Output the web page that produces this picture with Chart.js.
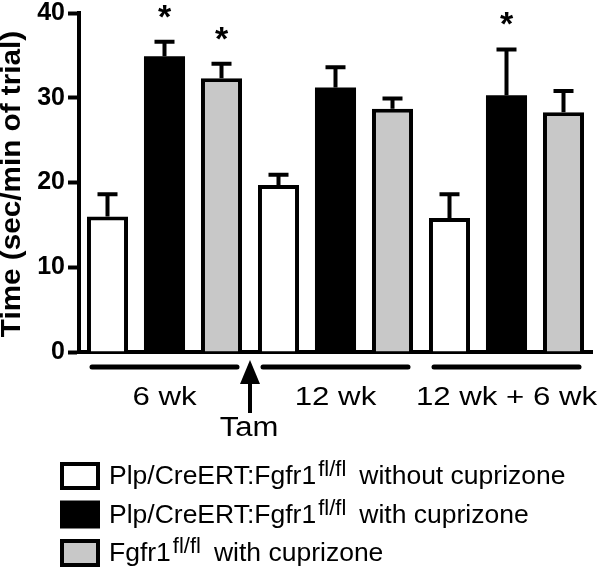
<!DOCTYPE html>
<html>
<head>
<meta charset="utf-8">
<script src="https://cdn.jsdelivr.net/npm/chart.js@4/dist/chart.umd.min.js"></script>
<style>
  html, body { margin: 0; padding: 0; background: #fff; }
  canvas { display: block; }
</style>
</head>
<body>
<canvas id="chart" width="601" height="570"></canvas>
<script>
const groups = ['6 wk', '12 wk', '12 wk + 6 wk']
const yTicks = [0, 10, 20, 30, 40]

const withoutCup = [16.0, 19.7, 15.8]
const withoutCupErr = [2.6, 1.2, 2.8]
const withCup = [34.9, 31.2, 30.3]
const withCupErr = [1.7, 2.4, 5.4]
const floxCup = [32.3, 28.7, 28.3]
const floxCupErr = [1.7, 1.2, 2.5]

// significance stars over bars
const withoutCupSig = [false, false, false]
const withCupSig = [true, false, true]
const floxCupSig = [true, false, false]

const legendRows = [
  { pre: 'Plp/CreERT:Fgfr1', sup: 'fl/fl', post: 'without cuprizone', fill: '#ffffff' },
  { pre: 'Plp/CreERT:Fgfr1', sup: 'fl/fl', post: 'with cuprizone', fill: '#000000' },
  { pre: 'Fgfr1', sup: 'fl/fl', post: 'with cuprizone', fill: '#c8c8c8' }
]

const FONT = '"Liberation Sans", Arial, sans-serif'

const errs = [withoutCupErr, withCupErr, floxCupErr]
const sigs = [withoutCupSig, withCupSig, floxCupSig]

const scaledText = (ctx, text, x, y, font, sx, align) => {
  ctx.save()
  ctx.font = font
  ctx.textAlign = align || 'center'
  ctx.textBaseline = 'alphabetic'
  ctx.translate(x, y)
  ctx.scale(sx, 1)
  ctx.fillText(text, 0, 0)
  ctx.restore()
}

const extras = {
  id: 'extras',
  afterDraw (chart) {
    const ctx = chart.ctx
    const x = chart.scales.x
    const y = chart.scales.y
    ctx.save()
    ctx.fillStyle = '#000'
    ctx.strokeStyle = '#000'

    // error bars + stars
    chart.data.datasets.forEach((ds, di) => {
      chart.getDatasetMeta(di).data.forEach((bar, i) => {
        const top = y.getPixelForValue(ds.data[i])
        const cap = y.getPixelForValue(ds.data[i] + errs[di][i])
        ctx.lineWidth = 4
        ctx.beginPath()
        ctx.moveTo(bar.x, top)
        ctx.lineTo(bar.x, cap)
        ctx.moveTo(bar.x - 10, cap)
        ctx.lineTo(bar.x + 10, cap)
        ctx.stroke()
        if (sigs[di][i]) {
          scaledText(ctx, '*', bar.x, cap - 14, 'bold 34px ' + FONT, 1)
        }
      })
    })

    // group underlines and labels
    const half = (x.getPixelForValue(1) - x.getPixelForValue(0)) / 2
    groups.forEach((g, i) => {
      const cx = x.getPixelForValue(i)
      ctx.lineWidth = 5
      ctx.lineCap = 'round'
      ctx.beginPath()
      ctx.moveTo(cx - half + 13, 367)
      ctx.lineTo(cx + half - 13, 367)
      ctx.stroke()
      scaledText(ctx, g, cx, 405, '26px ' + FONT, 1.2)
    })

    // Tam arrow between first and second group
    const ax = x.getPixelForValue(0) + half
    ctx.lineCap = 'butt'
    ctx.lineWidth = 4
    ctx.beginPath()
    ctx.moveTo(ax, 413)
    ctx.lineTo(ax, 378)
    ctx.stroke()
    ctx.beginPath()
    ctx.moveTo(ax, 360)
    ctx.lineTo(ax - 10, 384)
    ctx.lineTo(ax + 10, 384)
    ctx.closePath()
    ctx.fill()
    scaledText(ctx, 'Tam', ax - 1, 436, '27px ' + FONT, 1.15)

    // y axis title
    ctx.save()
    ctx.translate(13, 184)
    ctx.rotate(-Math.PI / 2)
    ctx.scale(1.1, 1)
    ctx.font = 'bold 27px ' + FONT
    ctx.textAlign = 'center'
    ctx.textBaseline = 'middle'
    ctx.fillText('Time (sec/min of trial)', 0, 0)
    ctx.restore()

    // legend
    legendRows.forEach((row, i) => {
      const cy = 476 + i * 38.5
      ctx.fillStyle = row.fill
      ctx.fillRect(62, cy - 12, 36, 24)
      ctx.lineWidth = 4
      ctx.strokeStyle = '#000'
      ctx.strokeRect(62, cy - 12, 36, 24)
      ctx.fillStyle = '#000'
      ctx.textAlign = 'left'
      ctx.textBaseline = 'alphabetic'
      let tx = 109
      const base = cy + 8
      ctx.font = '26.5px ' + FONT
      ctx.fillText(row.pre, tx, base)
      tx += ctx.measureText(row.pre).width + 2
      ctx.font = '22px ' + FONT
      ctx.fillText(row.sup, tx, base - 8)
      tx += ctx.measureText(row.sup).width + 13
      ctx.font = '26.5px ' + FONT
      ctx.fillText(row.post, tx, base)
    })
    ctx.restore()
  }
}

const barDataset = (label, data, fill, border) => ({
  label,
  data,
  backgroundColor: fill,
  borderColor: '#000',
  borderWidth: border,
  borderSkipped: 'start',
  categoryPercentage: 1,
  barPercentage: 0.72
})

new Chart(document.getElementById('chart'), { // eslint-disable-line
  type: 'bar',
  data: {
    labels: groups,
    datasets: [
      barDataset('Plp/CreERT:Fgfr1 fl/fl without cuprizone', withoutCup, '#ffffff', 4),
      barDataset('Plp/CreERT:Fgfr1 fl/fl with cuprizone', withCup, '#000000', 0),
      barDataset('Fgfr1 fl/fl with cuprizone', floxCup, '#c8c8c8', 4)
    ]
  },
  options: {
    responsive: false,
    animation: false,
    devicePixelRatio: 1,
    layout: { padding: { top: 10, right: 9, bottom: 218, left: 0 } },
    plugins: {
      legend: { display: false },
      tooltip: { enabled: false }
    },
    scales: {
      x: {
        grid: { display: false },
        border: { display: true, width: 4, color: '#000' },
        ticks: { display: false },
        afterFit: (scale) => { scale.height = 0 }
      },
      y: {
        min: 0,
        max: 40,
        afterBuildTicks: (scale) => { scale.ticks = yTicks.map(v => ({ value: v })) },
        grid: {
          display: true,
          drawOnChartArea: false,
          drawTicks: true,
          tickLength: 11,
          tickWidth: 4,
          tickColor: '#000'
        },
        border: { display: true, width: 4, color: '#000' },
        ticks: {
          color: '#000',
          padding: 3,
          font: { family: FONT, size: 25, weight: 'bold', lineHeight: 0.8 }
        },
        afterFit: (scale) => { scale.width = 79 }
      }
    }
  },
  plugins: [extras]
})
</script>
</body>
</html>
